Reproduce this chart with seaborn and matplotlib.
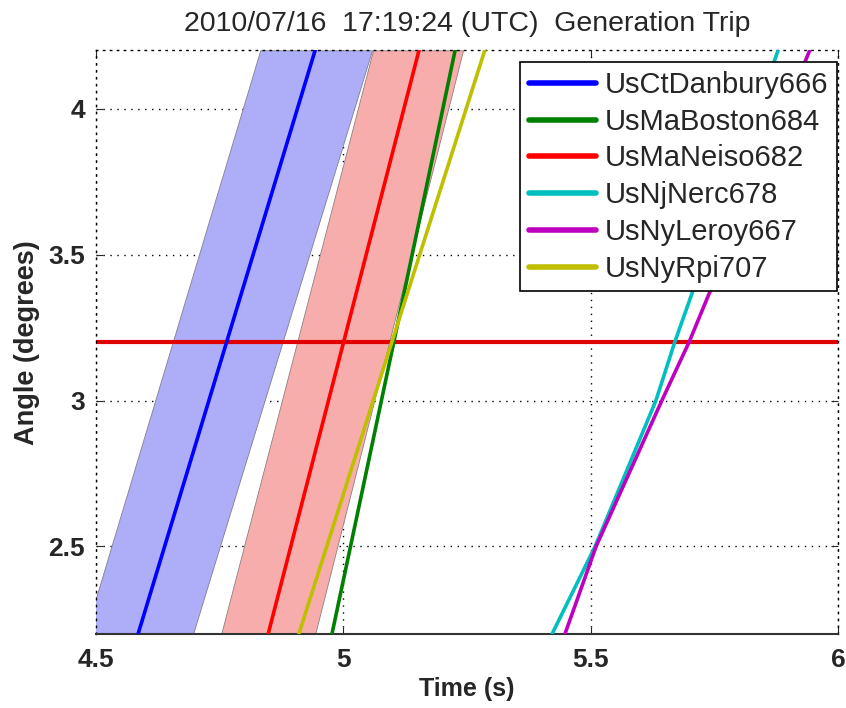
import pandas as pd
import seaborn as sns
import matplotlib.pyplot as plt

danbury_angle = [2.2, 4.2]
danbury_time = [4.585, 4.943]
boston_angle = [2.2, 3.2, 4.2]
boston_time = [4.977, 5.102, 5.226]
neiso_angle = [2.2, 4.2]
neiso_time = [4.848, 5.153]
nerc_angle = [2.2, 2.5, 3.0, 3.2, 4.2]
nerc_time = [5.422, 5.509, 5.632, 5.670, 5.879]
leroy_angle = [2.2, 2.5, 3.0, 3.2, 4.2]
leroy_time = [5.448, 5.511, 5.644, 5.699, 5.943]
rpi_angle = [2.2, 3.2, 4.2]
rpi_time = [4.910, 5.098, 5.286]

stations = ["UsCtDanbury666", "UsMaBoston684", "UsMaNeiso682",
            "UsNjNerc678", "UsNyLeroy667", "UsNyRpi707"]
colors = ["#0000ff", "#007f00", "#ff0000", "#00bfbf", "#bf00bf", "#bfbf00"]

# uncertainty bands around the Danbury and Neiso traces
band_angle = [2.2, 4.2]
danbury_lo = [4.478, 4.832]
danbury_hi = [4.696, 5.058]
neiso_lo = [4.753, 5.060]
neiso_hi = [4.943, 5.242]

threshold = 3.2

traces = [(danbury_angle, danbury_time), (boston_angle, boston_time),
          (neiso_angle, neiso_time), (nerc_angle, nerc_time),
          (leroy_angle, leroy_time), (rpi_angle, rpi_time)]
frames = []
for name, (a, t) in zip(stations, traces):
    frames.append(pd.DataFrame({"time": t, "angle": a, "station": name}))
df = pd.concat(frames, ignore_index=True)

sns.set_style("ticks")
plt.rcParams["font.family"] = ["Liberation Sans", "DejaVu Sans"]

fig = plt.figure(figsize=(8.46, 7.08), dpi=100)
ax = fig.add_axes([0.1135, 0.1045, 0.8770, 0.8245])

ax.fill_betweenx(band_angle, danbury_lo, danbury_hi, color="#aeaef8",
                 edgecolor="#7f7f90", linewidth=0.6, zorder=1)
ax.fill_betweenx(band_angle, neiso_lo, neiso_hi, color="#f8adad",
                 edgecolor="#907f7f", linewidth=0.6, zorder=1)
ax.axhline(threshold, color="#e00000", linewidth=3, zorder=2)

sns.lineplot(data=df, x="time", y="angle", hue="station", palette=colors,
             hue_order=stations, estimator=None, sort=False, linewidth=2.6,
             ax=ax, zorder=3)

ax.set_xlim(4.5, 6)
ax.set_ylim(2.2, 4.2)
ax.set_xticks([4.5, 5, 5.5, 6])
ax.set_xticklabels(["4.5", "5", "5.5", "6"])
ax.set_yticks([2.5, 3, 3.5, 4])
ax.set_yticklabels(["2.5", "3", "3.5", "4"])
ax.grid(True, linestyle=(0, (1, 4)), color="black", linewidth=1.0)
ax.tick_params(direction="in", top=True, right=True, labelsize=19, length=5)
ax.tick_params(axis="x", pad=10)
ax.tick_params(axis="y", pad=8)
for lbl in ax.get_xticklabels() + ax.get_yticklabels():
    lbl.set_fontweight("bold")
ax.spines["bottom"].set_linewidth(1.5)
ax.spines["bottom"].set_color("#333333")
for side in ["top", "left", "right"]:
    ax.spines[side].set_linestyle((0, (1, 4)))
    ax.spines[side].set_linewidth(1.0)
    ax.spines[side].set_color("black")

ax.set_xlabel("Time (s)", fontsize=18, fontweight="bold", labelpad=4)
ax.set_ylabel("Angle (degrees)", fontsize=19.5, fontweight="bold", labelpad=6)
ax.set_title("2010/07/16  17:19:24 (UTC)  Generation Trip", fontsize=20.5, pad=14)

leg = ax.legend(loc="upper right", bbox_to_anchor=(0.9985, 0.9795),
                fontsize=21, frameon=True, fancybox=False, framealpha=1,
                edgecolor="black", handlelength=2.3, labelspacing=0.3,
                borderaxespad=0, handletextpad=0.3, borderpad=0.3)
leg.get_frame().set_linewidth(1.2)
for line in leg.get_lines():
    line.set_linewidth(4)

fig.savefig("out.png", dpi=100)
plt.close(fig)
